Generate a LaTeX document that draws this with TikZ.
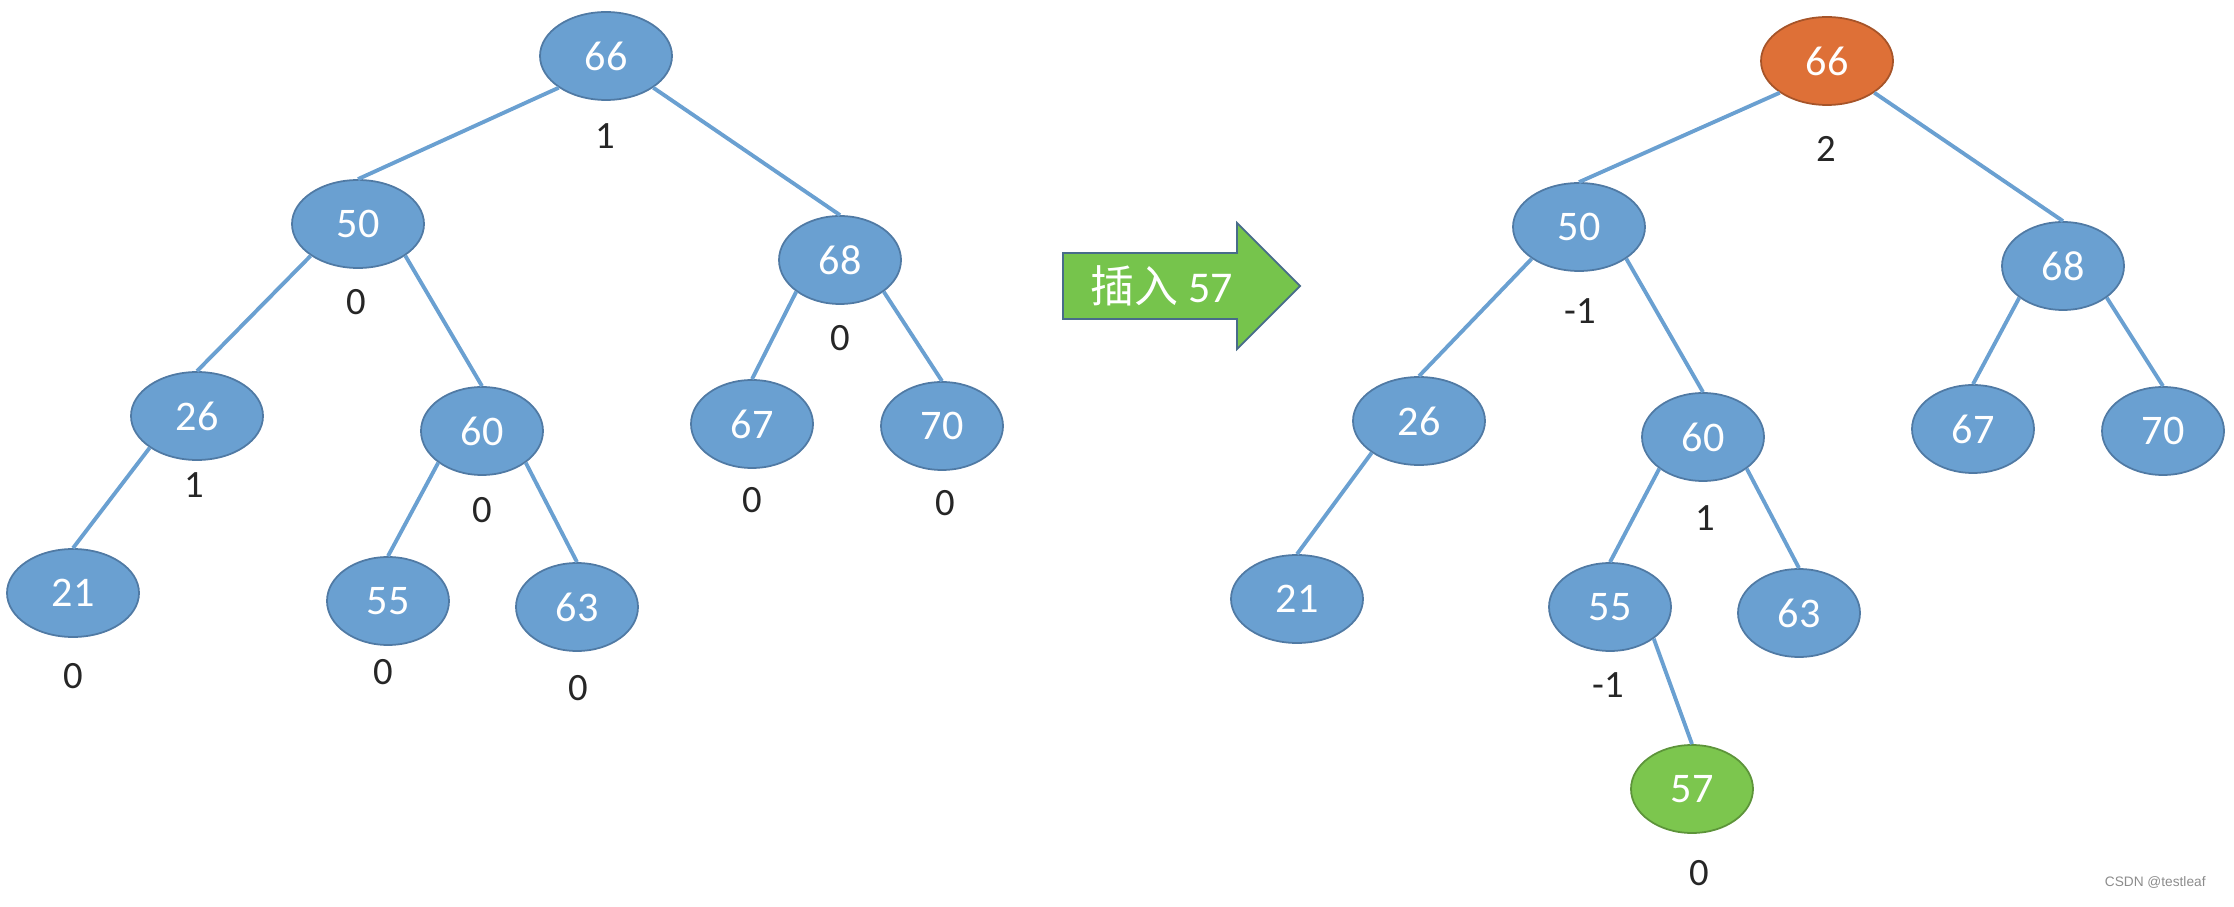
\documentclass[tikz,border=0pt]{standalone}
\usepackage{fontspec}
\setmainfont{Carlito}
\newfontfamily\cjk{Noto Sans CJK SC}
\newfontfamily\markfont{Liberation Sans}
\usepackage{tikz}
\usetikzlibrary{shapes.geometric}

\definecolor{nodeblue}{RGB}{106,160,209}
\definecolor{nodeline}{RGB}{80,122,164}
\definecolor{rootorange}{RGB}{222,112,55}
\definecolor{newgreen}{RGB}{124,198,78}
\definecolor{arrowgreen}{RGB}{118,196,76}
\definecolor{arrowline}{RGB}{72,108,138}

\begin{document}
\begin{tikzpicture}[
  avl/.style={ellipse, draw=nodeline, line width=0.5pt, fill=nodeblue, text=white,
    minimum width=1.22cm, minimum height=0.88cm, inner sep=0pt, font=\fontsize{12}{14}\selectfont},
  wide/.style={minimum width=1.32cm},
  bal/.style={text=black!85, font=\fontsize{11}{13}\selectfont, inner sep=0pt},
  edge/.style={draw=nodeblue, line width=1.1pt}]
\useasboundingbox (0,0) rectangle (22.34,-9.07);

% before the insertion
\node[avl, wide] (L66) at (6.06,-0.56) {66};
\node[avl, wide] (L50) at (3.58,-2.24) {50};
\node[avl] (L68) at (8.40,-2.60) {68};
\node[avl, wide] (L26) at (1.97,-4.16) {26};
\node[avl] (L60) at (4.82,-4.31) {60};
\node[avl] (L67) at (7.52,-4.24) {67};
\node[avl] (L70) at (9.42,-4.26) {70};
\node[avl, wide] (L21) at (0.73,-5.93) {21};
\node[avl] (L55) at (3.88,-6.01) {55};
\node[avl] (L63) at (5.77,-6.07) {63};

\node[bal] (bL66) at (6.05,-1.36) {1};
\node[bal] (bL50) at (3.56,-3.02) {0};
\node[bal] (bL68) at (8.40,-3.38) {0};
\node[bal] (bL26) at (1.94,-4.85) {1};
\node[bal] (bL60) at (4.82,-5.10) {0};
\node[bal] (bL67) at (7.52,-5.00) {0};
\node[bal] (bL70) at (9.45,-5.03) {0};
\node[bal] (bL21) at (0.73,-6.76) {0};
\node[bal] (bL55) at (3.83,-6.72) {0};
\node[bal] (bL63) at (5.78,-6.88) {0};

\foreach \p/\s/\c in {L66/south west/L50, L66/south east/L68, L50/south west/L26, L50/south east/L60,
    L68/south west/L67, L68/south east/L70, L26/south west/L21, L60/south west/L55, L60/south east/L63}
  \draw[edge] (\p.\s) -- (\c.north);

% insert arrow
\draw[fill=arrowgreen, draw=arrowline, line width=0.5pt]
  (10.63,-2.53) -- (12.37,-2.53) -- (12.37,-2.23) -- (13.00,-2.86)
  -- (12.37,-3.49) -- (12.37,-3.19) -- (10.63,-3.19) -- cycle;
\node[text=white, font=\fontsize{12.5}{14}\selectfont] (ins) at (11.62,-2.86) {{\cjk 插入} 57};

% after the insertion
\node[avl, wide, fill=rootorange, draw=rootorange!75!black] (R66) at (18.27,-0.61) {66};
\node[avl, wide] (R50) at (15.79,-2.27) {50};
\node[avl] (R68) at (20.63,-2.66) {68};
\node[avl, wide] (R26) at (14.19,-4.21) {26};
\node[avl] (R60) at (17.03,-4.37) {60};
\node[avl] (R67) at (19.73,-4.29) {67};
\node[avl] (R70) at (21.63,-4.31) {70};
\node[avl, wide] (R21) at (12.97,-5.99) {21};
\node[avl] (R55) at (16.10,-6.07) {55};
\node[avl] (R63) at (17.99,-6.13) {63};
\node[avl, fill=newgreen, draw=newgreen!75!black] (R57) at (16.92,-7.89) {57};

\node[bal] (bR66) at (18.26,-1.49) {2};
\node[bal] (bR50) at (15.80,-3.11) {-1};
\node[bal] (bR60) at (17.05,-5.18) {1};
\node[bal] (bR55) at (16.08,-6.85) {-1};
\node[bal] (bR57) at (16.99,-8.73) {0};

\foreach \p/\s/\c in {R66/south west/R50, R66/south east/R68, R50/south west/R26, R50/south east/R60,
    R68/south west/R67, R68/south east/R70, R26/south west/R21, R60/south west/R55, R60/south east/R63,
    R55/south east/R57}
  \draw[edge] (\p.\s) -- (\c.north);

\node[anchor=east, text=black!45, font=\markfont\fontsize{3.9}{5}\selectfont] (mark) at (22.18,-8.82) {CSDN @testleaf};
\end{tikzpicture}
\end{document}
